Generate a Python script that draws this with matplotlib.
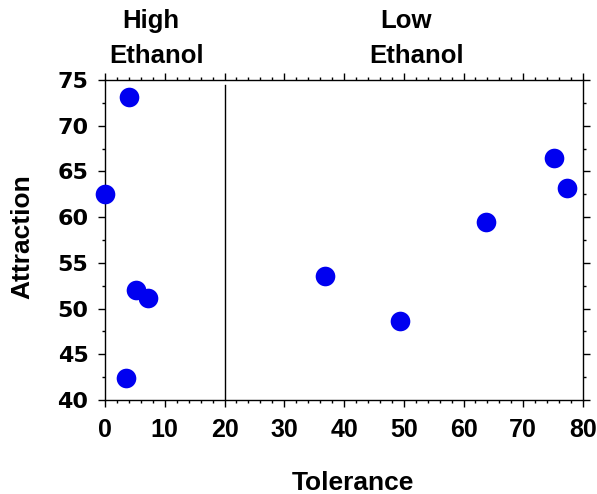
import numpy as np
import matplotlib
matplotlib.use('Agg')
from matplotlib import pyplot as plt
from matplotlib import transforms
from matplotlib.ticker import MultipleLocator

plt.rcParams['font.family'] = ['Liberation Sans', 'DejaVu Sans']
plt.rcParams['font.weight'] = 'bold'

# 数据
tolerance = [4.0, 0.0, 5.2, 7.2, 3.5, 36.8, 49.4, 63.8, 75.1, 77.3]
attraction = [73.1, 62.5, 52.0, 51.2, 42.4, 53.6, 48.6, 59.5, 66.5, 63.2]
cutoff = 20
# 上方分组标签：每行文字 + 中心位置(数据x)
header_lines = ['High', 'Ethanol', 'Low', 'Ethanol']
header_x = [7.7, 8.7, 50.4, 52.1]
header_row = [0, 1, 0, 1]

W, H = 597, 494
fig = plt.figure(figsize=(W / 100, H / 100), dpi=100)
ax = fig.add_axes([105 / W, 1 - 400 / H, 478 / W, 320 / H])

ax.scatter(tolerance, attraction, s=200, color='#0000f0', zorder=3, clip_on=False, linewidths=0)
ax.axvline(cutoff, ymin=0, ymax=0.985, color='black', lw=1)

ax.set_xlim(0, 80)
ax.set_ylim(40, 75)
ax.xaxis.set_major_locator(MultipleLocator(10))
ax.xaxis.set_minor_locator(MultipleLocator(2))
ax.yaxis.set_major_locator(MultipleLocator(5))
ax.yaxis.set_minor_locator(MultipleLocator(2.5))

ax.tick_params(which='both', direction='out', top=True, right=True, width=1)
ax.tick_params(which='major', length=5)
ax.tick_params(which='minor', length=2.5)
ax.tick_params(axis='x', which='major', pad=8)
ax.tick_params(axis='y', which='major', pad=7)
for lab in ax.get_xticklabels():
    lab.set_fontweight('bold')
    lab.set_fontsize(18)
for lab in ax.get_yticklabels():
    lab.set_fontweight('bold')
    lab.set_fontfamily('DejaVu Sans')
    lab.set_fontsize(16)
for sp in ax.spines.values():
    sp.set_linewidth(1)

# 坐标轴标题
fig.text(353 / W, 1 - 490 / H, 'Tolerance', ha='center', va='baseline',
         fontsize=19, fontweight='bold')
fig.text(22 / W, 1 - 237 / H, 'Attraction', ha='center', va='center', rotation=90,
         fontsize=19, fontweight='bold')

# 分组标题
trans = transforms.blended_transform_factory(ax.transData, fig.transFigure)
row_base = [1 - 28 / H, 1 - 63 / H]
for txt, hx, r in zip(header_lines, header_x, header_row):
    ax.text(hx, row_base[r], txt, transform=trans, ha='center', va='baseline',
            fontsize=18.5, fontweight='bold', clip_on=False)

fig.savefig('out.png', dpi=100)
